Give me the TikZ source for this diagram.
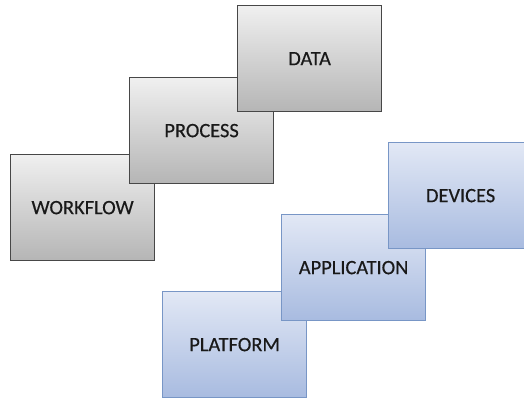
\documentclass[tikz,border=0pt]{standalone}
\usepackage{fontspec}
\setmainfont{Carlito}
\newfontfamily\labelfont{Carlito}[FakeBold=0.35]
\begin{document}
\begin{tikzpicture}[x=1bp,y=-1bp,
  layer/.style={draw, line width=1.2bp, minimum width=144bp, minimum height=106bp,
    inner sep=0pt, anchor=north west, text=black!90,
    font=\labelfont\fontsize{20.5}{23}\selectfont},
  greybox/.style={layer, draw=black!72, top color=black!6, bottom color=black!29},
  bluebox/.style={layer, draw=bluerim, top color=bluetop, bottom color=bluebot}]
\definecolor{bluerim}{HTML}{7896C6}
\definecolor{bluetop}{HTML}{E2E8F5}
\definecolor{bluebot}{HTML}{A8BBE0}
\useasboundingbox (0,0) rectangle (524,399);
% upper staircase
\node[greybox] (workflow) at (10,154) {WORKFLOW};
\node[greybox] (process)  at (129,77) {PROCESS};
\node[greybox] (data)     at (237,5)  {DATA};
% lower staircase
\node[bluebox] (platform)    at (162,291) {PLATFORM};
\node[bluebox] (application) at (281,214) {APPLICATION};
\node[bluebox] (devices)     at (388,142) {DEVICES};
\end{tikzpicture}
\end{document}
